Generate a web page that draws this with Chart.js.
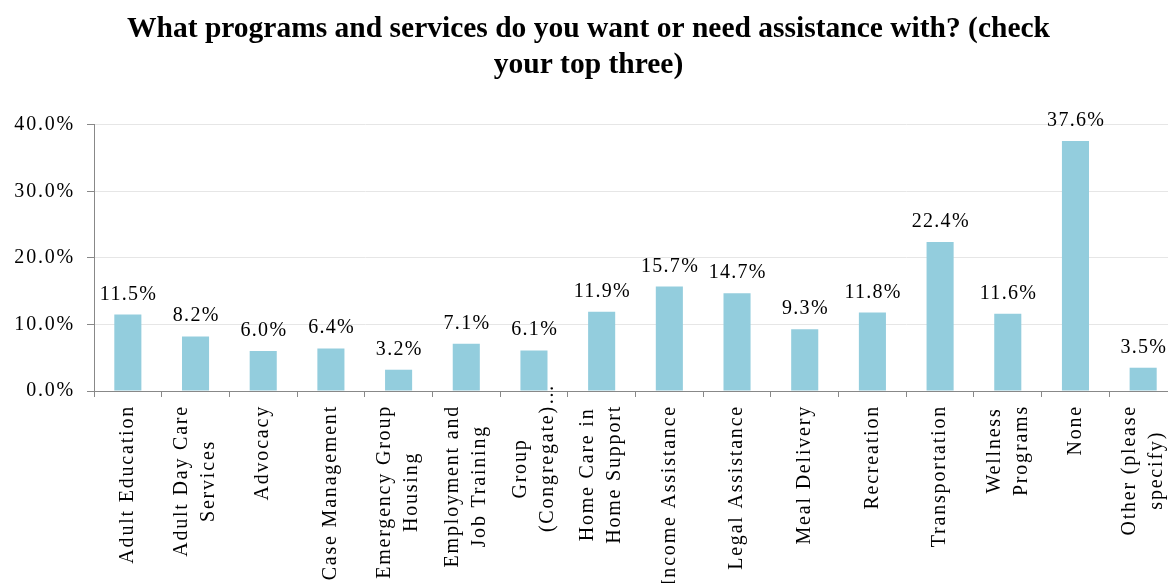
<!DOCTYPE html>
<html>
<head>
<meta charset="utf-8">
<script src="https://cdn.jsdelivr.net/npm/chart.js@4"></script>
<style>
html, body { margin: 0; padding: 0; background: #fff; overflow: hidden; }
#wrap { width: 1182px; height: 583px; position: relative; }
</style>
</head>
<body>
<div id="wrap"><canvas id="myChart"></canvas></div>
<script>
// survey answers, one entry per bar (lines of the rotated label)
var categories = [
	['Adult Education'],
	['Adult Day Care', 'Services'],
	['Advocacy'],
	['Case Management'],
	['Emergency Group', 'Housing'],
	['Employment and', 'Job Training'],
	['Group', '(Congregate)…'],
	['Home Care in', 'Home Support'],
	['Income Assistance'],
	['Legal Assistance'],
	['Meal Delivery'],
	['Recreation'],
	['Transportation'],
	['Wellness', 'Programs'],
	['None'],
	['Other (please', 'specify)']
];
var values = [11.5, 8.2, 6.0, 6.4, 3.2, 7.1, 6.1, 11.9, 15.7, 14.7, 9.3, 11.8, 22.4, 11.6, 37.6, 3.5];
var yTicks = [0, 10, 20, 30, 40];
var titleLines = ['What programs and services do you want or need assistance with? (check', 'your top three)'];

var serif = '"Liberation Serif", "Times New Roman", serif';

// value labels above bars + rotated category labels under the axis
var textPlugin = {
	id: 'textPlugin',
	afterDatasetsDraw: function(chart){
		var ctx = chart.ctx;
		var meta = chart.getDatasetMeta(0);
		ctx.save();
		ctx.fillStyle = '#000';
		ctx.font = '20px ' + serif;
		ctx.letterSpacing = '1.3px';
		ctx.textAlign = 'center';
		ctx.textBaseline = 'alphabetic';
		meta.data.forEach(function(bar, i){
			ctx.fillText(values[i].toFixed(1) + '%', bar.x + 0.7, bar.y - 15);
		});

		var xs = chart.scales.x;
		var top = chart.chartArea.bottom + 14;
		ctx.letterSpacing = '1.8px';
		ctx.textAlign = 'left';
		ctx.textBaseline = 'middle';
		categories.forEach(function(lines, i){
			var cx = xs.getPixelForValue(i);
			var widths = lines.map(function(l){ return ctx.measureText(l.replace('…', '')).width; });
			var bw = Math.max.apply(null, widths);
			lines.forEach(function(l, j){
				var x = cx + (j - (lines.length - 1) / 2) * 27;
				var y = top + (bw + widths[j]) / 2;
				ctx.save();
				ctx.translate(x, y);
				ctx.rotate(-Math.PI / 2);
				ctx.fillText(l, 0, 0);
				ctx.restore();
			});
		});
		ctx.restore();
	}
};

var ctx = document.getElementById('myChart').getContext('2d');
var chart = new Chart(ctx, {
	type: 'bar',
	data: {
		labels: categories,
		datasets: [{
			label: 'Share',
			data: values,
			backgroundColor: '#93cddd',
			borderWidth: 0,
			barPercentage: 0.4,
			categoryPercentage: 1.0
		}]
	},
	plugins: [textPlugin],
	options: {
		responsive: true,
		maintainAspectRatio: false,
		animation: false,
		layout: { padding: { left: 0, right: 5, top: 0, bottom: 0 } },
		plugins: {
			legend: { display: false },
			tooltip: { enabled: false },
			title: {
				display: true,
				text: titleLines,
				color: '#000',
				font: { family: serif, size: 29.5, weight: 'bold', lineHeight: 1.22 },
				padding: { top: 11, bottom: 42 }
			}
		},
		scales: {
			x: {
				offset: true,
				ticks: { display: false },
				grid: {
					offset: true,
					drawOnChartArea: false,
					drawTicks: true,
					tickLength: 6,
					tickColor: '#888',
					color: '#888'
				},
				border: { color: '#888', width: 1 },
				afterFit: function(axis){ axis.height = 192; }
			},
			y: {
				min: 0,
				max: 40,
				afterBuildTicks: function(axis){
					axis.ticks = yTicks.map(function(v){ return { value: v }; });
				},
				ticks: {
					color: '#000',
					padding: 12,
					font: { family: serif, size: 20 },
					callback: function(v){ return v.toFixed(1) + '%'; }
				},
				grid: {
					color: '#e6e6e6',
					tickLength: 7,
					tickColor: '#888'
				},
				border: { color: '#888', width: 1 },
				afterFit: function(axis){ axis.width = 94; },
				afterUpdate: function(axis){
					// Excel spreads the digits out a bit
					if(!axis._spaced){
						var orig = axis.drawLabels;
						axis.drawLabels = function(area){
							this.ctx.save();
							this.ctx.letterSpacing = '1.8px';
							orig.call(this, area);
							this.ctx.restore();
						};
						axis._spaced = true;
					}
				}
			}
		}
	}
});
</script>
</body>
</html>
